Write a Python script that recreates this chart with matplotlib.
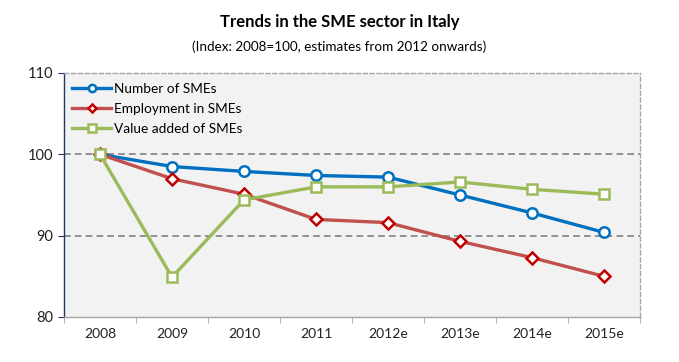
import matplotlib
matplotlib.use("Agg")
import matplotlib.pyplot as plt

categories = ["2008", "2009", "2010", "2011", "2012e", "2013e", "2014e", "2015e"]
number_smes = [100, 98.5, 97.9, 97.4, 97.2, 95.0, 92.8, 90.4]
employment_smes = [100, 97.0, 95.1, 92.0, 91.6, 89.3, 87.3, 85.0]
value_added_smes = [100, 84.9, 94.4, 96.0, 96.0, 96.6, 95.7, 95.1]
y_ticks = [80, 90, 100, 110]

plt.rcParams['font.family'] = ['Lato', 'DejaVu Sans']

fig = plt.figure(figsize=(6.79, 3.62), dpi=100)
ax = fig.add_axes([64/679, 1-317/362, 576/679, 244/362])
ax.set_facecolor("#F2F2F2")

x = list(range(len(categories)))
ax.plot(x, number_smes, color="#0070C0", lw=2.4, marker="o", ms=7.5,
        mfc="white", mec="#0070C0", mew=1.8, label="Number of SMEs", zorder=3)
ax.plot(x, employment_smes, color="#C0504D", lw=2.4, marker="D", ms=6.5,
        mfc="white", mec="#C00000", mew=1.8, label="Employment in SMEs", zorder=3)
ax.plot(x, value_added_smes, color="#9BBB59", lw=2.4, marker="s", ms=7.5,
        mfc="white", mec="#9BBB59", mew=1.8, label="Value added of SMEs", zorder=4)

ax.set_xlim(-0.5, len(categories) - 0.5)
ax.set_ylim(80, 110)
ax.set_yticks(y_ticks)
ax.set_yticklabels([str(v) for v in y_ticks], fontsize=10.5, color="#222222")
ax.set_xticks(x)
ax.set_xticklabels(categories, fontsize=10, color="#222222")
ax.tick_params(axis="x", length=0, pad=8)
ax.set_xticks([i - 0.5 for i in range(len(categories) + 1)], minor=True)
ax.tick_params(axis="x", which="minor", length=4, color="#A6A6A6", direction="out")
ax.tick_params(axis="y", length=4, color="#1F3864", direction="out", pad=4)

for v in [90, 100]:
    ax.axhline(v, color="#808080", lw=1.2, ls=(0, (4, 2.5)), zorder=1)

ax.spines["left"].set_color("#1F3864")
ax.spines["left"].set_linewidth(1.0)
ax.spines["bottom"].set_color("#A6A6A6")
ax.spines["bottom"].set_linewidth(1.0)
for s in ["top", "right"]:
    ax.spines[s].set_color("#A6A6A6")
    ax.spines[s].set_linestyle((0, (3, 2)))
    ax.spines[s].set_linewidth(1.0)

leg = ax.legend(loc="upper left", frameon=False, fontsize=9.8,
                bbox_to_anchor=(8/576, 1 - 10/244), handlelength=2.9,
                borderaxespad=0.0, borderpad=0.0, labelspacing=0.58,
                handletextpad=0.2, markerscale=0.7)

fig.text(0.5, 1-22/362, "Trends in the SME sector in Italy", ha="center", va="center",
         fontsize=12, fontweight="bold", color="#000000")
fig.text(0.5, 1-47/362, "(Index: 2008=100, estimates from 2012 onwards)", ha="center",
         va="center", fontsize=9.7, color="#000000")

fig.savefig("out.png", dpi=100)
